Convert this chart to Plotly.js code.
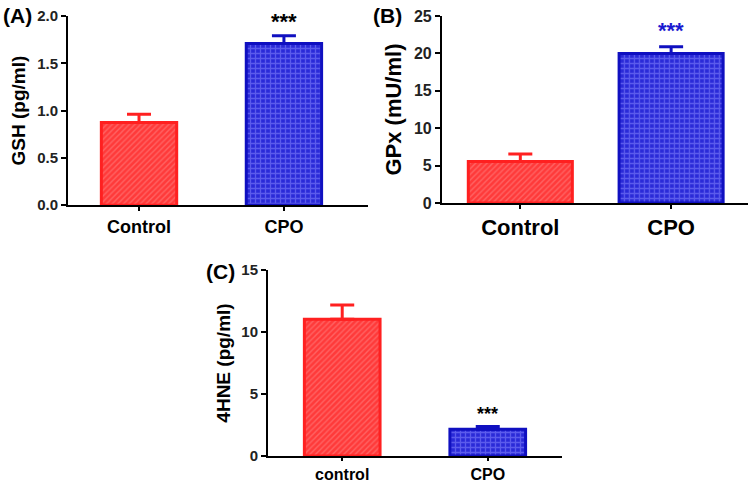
<!DOCTYPE html>
<html>
<head>
<meta charset="utf-8">
<script src="https://cdn.plot.ly/plotly-3.0.1.min.js"></script>
<style>
  html, body { margin: 0; padding: 0; background: #fff; }
  #chart { width: 749px; height: 485px; }
</style>
</head>
<body>
<div id="chart"></div>
<script>
// --- Data ---
const groupsAB = ['Control', 'CPO'];
const groupsC = ['control', 'CPO'];
const gshMean = [0.875, 1.71];
const gshErr = [0.085, 0.08];
const gpxMean = [5.55, 20.0];
const gpxErr = [1.0, 0.9];
const hneMean = [11.03, 2.15];
const hneErr = [1.14, 0.23];

// --- Styles ---
const FONT = 'Liberation Sans, Arial, sans-serif';
const RED = '#ff2020', BLUE = '#1010c0';
const redPattern = { shape: '/', bgcolor: '#ff3a3a', fgcolor: '#ff8c8c', size: 4, solidity: 0.35, fillmode: 'overlay' };
const bluePattern = { shape: '+', bgcolor: '#2a2ad8', fgcolor: '#8c8cff', size: 5, solidity: 0.45, fillmode: 'overlay' };

function barTraces(xa, ya, cats, means, errs, width) {
    return cats.map((c, i) => ({
        type: 'bar', x: [i], y: [means[i]], xaxis: xa, yaxis: ya, width: width,
        marker: {
            color: i === 0 ? '#ff4040' : '#3030d0',
            pattern: i === 0 ? redPattern : bluePattern,
            line: { color: i === 0 ? RED : BLUE, width: 3 }
        },
        error_y: {
            type: 'data', symmetric: false, array: [errs[i]], arrayminus: [0],
            color: i === 0 ? RED : BLUE, thickness: 3, width: 12
        },
        showlegend: false, hoverinfo: 'skip'
    }));
}

const data = [
    ...barTraces('x', 'y', groupsAB, gshMean, gshErr, 0.52),
    ...barTraces('x2', 'y2', groupsAB, gpxMean, gpxErr, 0.69),
    ...barTraces('x3', 'y3', groupsC, hneMean, hneErr, 0.52)
];

function xAxis(domain, range, anchor, cats, size, tlen) {
    return {
        domain: domain, range: range, anchor: anchor,
        tickvals: [0, 1], ticktext: cats,
        showline: true, linecolor: '#000', linewidth: 2,
        ticks: 'outside', ticklen: tlen, tickwidth: 2, tickcolor: '#000',
        showgrid: false, zeroline: false, fixedrange: true,
        tickfont: { family: FONT, size: size, color: '#000', weight: 'bold' }
    };
}
function yAxis(domain, range, anchor, dtick, fmt, title, tsize, fsize) {
    return {
        domain: domain, range: range, anchor: anchor, dtick: dtick, tickformat: fmt,
        showline: true, linecolor: '#000', linewidth: 2,
        ticks: 'outside', ticklen: 5, tickwidth: 2, tickcolor: '#000',
        showgrid: false, zeroline: false, fixedrange: true,
        tickfont: { family: FONT, size: tsize, color: '#222', weight: 'bold' },
        title: { text: title, standoff: 6, font: { family: FONT, size: fsize, color: '#000', weight: 'bold' } }
    };
}

const layout = {
    width: 749, height: 485,
    margin: { l: 0, r: 0, t: 0, b: 0 },
    paper_bgcolor: '#fff', plot_bgcolor: '#fff',
    xaxis: xAxis([0.0908, 0.4913], [-0.49, 1.58], 'y', groupsAB, 18, 4),
    yaxis: yAxis([0.577, 0.967], [0, 2.0], 'x', 0.5, '.1f', 'GSH (pg/ml)', 15, 19),
    xaxis2: xAxis([0.590, 0.9987], [-0.52, 1.51], 'y2', groupsAB, 22, 4),
    yaxis2: yAxis([0.5814, 0.967], [0, 25], 'x2', 5, 'd', 'GPx (mU/ml)', 16, 22),
    xaxis3: xAxis([0.3578, 0.7503], [-0.51, 1.51], 'y3', groupsC, 16, 3),
    yaxis3: yAxis([0.0598, 0.4433], [0, 15], 'x3', 5, 'd', '4HNE (pg/ml)', 15, 19),
    annotations: [
        { text: '(A)', xref: 'paper', yref: 'paper', x: 0.002, y: 0.995, xanchor: 'left', yanchor: 'top', showarrow: false, font: { family: FONT, size: 21, color: '#000', weight: 'bold' } },
        { text: '(B)', xref: 'paper', yref: 'paper', x: 0.495, y: 0.995, xanchor: 'left', yanchor: 'top', showarrow: false, font: { family: FONT, size: 21, color: '#000', weight: 'bold' } },
        { text: '(C)', xref: 'paper', yref: 'paper', x: 0.272, y: 0.468, xanchor: 'left', yanchor: 'top', showarrow: false, font: { family: FONT, size: 21, color: '#000', weight: 'bold' } },
        { text: '***', xref: 'x', yref: 'y', x: 1, y: gshMean[1] + gshErr[1], yanchor: 'bottom', yshift: 0, showarrow: false, font: { family: FONT, size: 22, color: '#000', weight: 'bold' } },
        { text: '***', xref: 'x2', yref: 'y2', x: 1, y: gpxMean[1] + gpxErr[1], yanchor: 'bottom', yshift: 2, showarrow: false, font: { family: FONT, size: 22, color: '#1a1ad0', weight: 'bold' } },
        { text: '***', xref: 'x3', yref: 'y3', x: 1, y: hneMean[1] + hneErr[1], yanchor: 'bottom', yshift: 0, showarrow: false, font: { family: FONT, size: 18, color: '#000', weight: 'bold' } }
    ]
};

Plotly.newPlot('chart', data, layout, { displayModeBar: false, staticPlot: true });
</script>
</body>
</html>
